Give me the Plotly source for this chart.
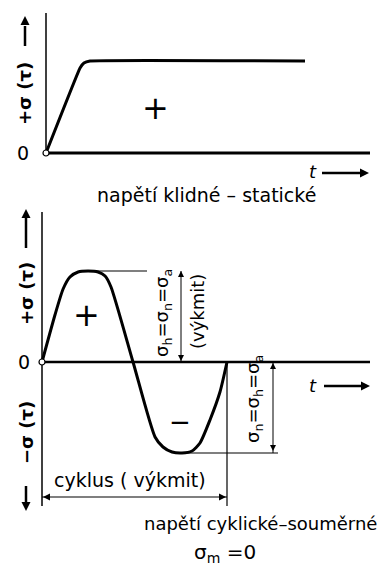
import plotly.graph_objects as go

# ---------------------------------------------------------------- data
# static load: time t (in cycle units) and stress sigma (relative to peak)
static_t = [0.0, 0.184, 0.205, 0.238, 1.40]
static_sigma = [0.0, 0.924, 0.978, 1.0, 1.0]

# one full cycle of symmetric alternating stress (sigma_m = 0)
cyclic_t = [0.0, 0.070, 0.114, 0.151, 0.195, 0.249, 0.303, 0.341, 0.373,
            0.492, 0.611, 0.654, 0.703, 0.757, 0.811, 0.854, 0.908, 0.962, 1.0]
cyclic_sigma = [0.0, 0.516, 0.802, 0.934, 0.989, 1.0, 0.989, 0.945, 0.824,
                0.0, -0.824, -0.934, -0.989, -1.0, -0.978, -0.89, -0.637, -0.33, 0.0]

caption_static = "napětí klidné – statické"
caption_cyclic = "napětí cyklické–souměrné"
mean_label = "σ<sub>m</sub> =0"
amp_label_top = "σ<sub>h</sub>=σ<sub>n</sub>=σ<sub>a</sub>"
amp_label_bot = "σ<sub>n</sub>=σ<sub>h</sub>=σ<sub>a</sub>"
amp_word = "(výkmit)"
cycle_label = "cyklus ( výkmit)"
pos_axis_label = "+σ (τ)"
neg_axis_label = "−σ (τ)"

# ---------------------------------------------------------------- layout
W, H = 381, 572
FONT = "DejaVu Sans"
INK = "black"

# pixel placement of each panel: origin and scale (px per unit)
TOP_O = (46, 153)
TOP_SX, TOP_SY = 185, 92
BOT_O = (42, 362)
BOT_SX, BOT_SY = 185, 91


def paper(xp, yp):
    return xp / W, 1 - yp / H


def bx(xp):
    return (xp - BOT_O[0]) / BOT_SX


def by(yp):
    return (BOT_O[1] - yp) / BOT_SY


def tx(xp):
    return (xp - TOP_O[0]) / TOP_SX


def ty(yp):
    return (TOP_O[1] - yp) / TOP_SY


fig = go.Figure()

# curves
fig.add_trace(go.Scatter(x=static_t, y=static_sigma, mode="lines",
                         line=dict(color=INK, width=3, shape="spline", smoothing=0.3),
                         xaxis="x", yaxis="y", hoverinfo="skip"))
fig.add_trace(go.Scatter(x=cyclic_t, y=cyclic_sigma, mode="lines",
                         line=dict(color=INK, width=3, shape="spline", smoothing=0.6),
                         xaxis="x2", yaxis="y2", hoverinfo="skip"))

shapes = []


def seg(x0, y0, x1, y1, w, ref="top"):
    xr, yr = ("x", "y") if ref == "top" else ("x2", "y2")
    shapes.append(dict(type="line", xref=xr, yref=yr, x0=x0, y0=y0, x1=x1, y1=y1,
                       line=dict(color=INK, width=w), layer="below"))


# top panel axes
seg(0, 0, 0, ty(13), 1.5, "top")
seg(0, 0, tx(370), 0, 3, "top")

# bottom panel axes
peak = max(cyclic_sigma)
trough = min(cyclic_sigma)
seg(0, by(212), 0, by(506), 1.5, "bot")
seg(0, 0, bx(370), 0, 2.5, "bot")
# extension lines of the amplitude and cycle dimensions
seg(cyclic_t[cyclic_sigma.index(peak)], peak, bx(147), peak, 1.2, "bot")
seg(cyclic_t[cyclic_sigma.index(trough)], trough, bx(278), trough, 1.2, "bot")
seg(cyclic_t[-1], 0, cyclic_t[-1], by(506), 1.2, "bot")
# dimension lines
seg(bx(181), 0, bx(181), peak, 1, "bot")
seg(bx(273), 0, bx(273), trough, 1, "bot")
seg(0, by(497), cyclic_t[-1], by(497), 1.2, "bot")

# arrow shafts beside the axis labels (pixel positions)
shaft_top = [(25, 26, 25, 46), (322, 173, 362, 173)]
shaft_bot = [(26, 216, 26, 248), (26, 486, 26, 504), (324, 386, 363, 386)]
for (x0, y0, x1, y1) in shaft_top:
    seg(tx(x0), ty(y0), tx(x1), ty(y1), 2.5, "top")
for (x0, y0, x1, y1) in shaft_bot:
    seg(bx(x0), by(y0), bx(x1), by(y1), 2.5, "bot")

fig.update_layout(shapes=shapes)


def heads(points, ref, size, symbol):
    xa, ya = ("x", "y") if ref == "top" else ("x2", "y2")
    conv = (tx, ty) if ref == "top" else (bx, by)
    fig.add_trace(go.Scatter(
        x=[conv[0](p[0]) for p in points], y=[conv[1](p[1]) for p in points],
        mode="markers", xaxis=xa, yaxis=ya, hoverinfo="skip",
        marker=dict(symbol=symbol, size=size, color=INK, line=dict(width=0))))


# arrowheads of the axis arrows
heads([(25, 16)], "top", 9, "arrow-up")
heads([(369, 173)], "top", 9, "arrow-right")
heads([(26, 209)], "bot", 9, "arrow-up")
heads([(26, 511)], "bot", 9, "arrow-down")
heads([(370, 386)], "bot", 9, "arrow-right")
# arrowheads of the dimension lines
heads([(181, 271), (273, 363)], "bot", 6, "arrow-up")
heads([(181, 361), (273, 451)], "bot", 6, "arrow-down")
heads([(43, 497)], "bot", 7, "arrow-left")
heads([(226, 497)], "bot", 7, "arrow-right")

# open circles at the origins
fig.add_trace(go.Scatter(x=[0], y=[0], mode="markers", xaxis="x", yaxis="y",
                         marker=dict(symbol="circle", size=6, color="white",
                                     line=dict(color=INK, width=1.2)), hoverinfo="skip"))
fig.add_trace(go.Scatter(x=[0], y=[0], mode="markers", xaxis="x2", yaxis="y2",
                         marker=dict(symbol="circle", size=6, color="white",
                                     line=dict(color=INK, width=1.2)), hoverinfo="skip"))

ann = []


def text(xp, yp, s, size=16, angle=0, italic=False, weight=400, anchor="center"):
    x, y = paper(xp, yp)
    ann.append(dict(xref="paper", yref="paper", x=x, y=y, text=s, showarrow=False,
                    textangle=angle, xanchor=anchor, yanchor="middle",
                    font=dict(family=FONT, size=size, color=INK,
                              style="italic" if italic else "normal", weight=weight)))


# axis labels
text(24, 94, pos_axis_label, 18, -90, weight=700)
text(23, 153, "0", 19)
text(313, 172, "t", 18, italic=True)
text(155, 108, "+", 32)
text(206, 195, caption_static, 19)

text(26, 294, pos_axis_label, 18, -90, weight=700)
text(24, 362, "0", 19)
text(26, 433, neg_axis_label, 18, -90, weight=700)
text(313, 385, "t", 18, italic=True)
text(86, 315, "+", 32)
text(180, 422, "−", 26)

# amplitude dimensions
text(163, 313, amp_label_top, 18, -90)
text(197, 312, amp_word, 18, -90)
text(254, 399, amp_label_bot, 18, -90)

# cycle dimension
text(130, 480, cycle_label, 19)

text(379, 523, caption_cyclic, 18, anchor="right")
text(225, 553, mean_label, 20)

fig.update_layout(annotations=ann)

fig.update_layout(
    width=W, height=H, margin=dict(l=0, r=0, t=0, b=0),
    paper_bgcolor="white", plot_bgcolor="white", showlegend=False,
    xaxis=dict(range=[tx(0), tx(W)], visible=False, fixedrange=True),
    yaxis=dict(range=[ty(H), ty(0)], visible=False, fixedrange=True),
    xaxis2=dict(range=[bx(0), bx(W)], visible=False, overlaying="x", fixedrange=True),
    yaxis2=dict(range=[by(H), by(0)], visible=False, overlaying="y", fixedrange=True),
)

fig.write_html("out.html", config={"displayModeBar": False})
